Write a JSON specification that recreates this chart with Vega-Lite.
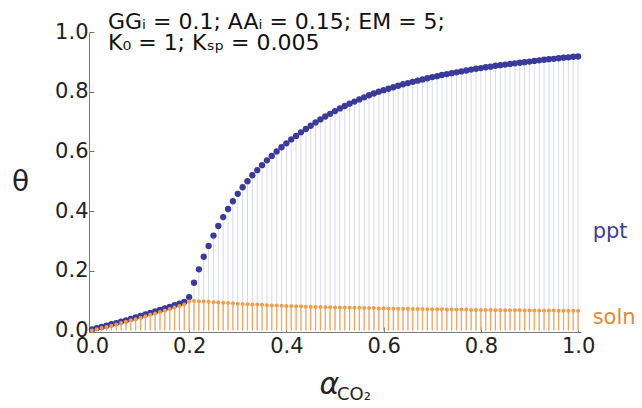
{
  "$schema": "https://vega.github.io/schema/vega-lite/v6.json",
  "width": 492,
  "height": 300,
  "autosize": "none",
  "padding": {"left": 89, "top": 32, "right": 61, "bottom": 76},
  "config": {"view": {"stroke": null}, "font": "DejaVu Sans"},
  "datasets": {
    "curve": [
      {"alpha":0.00,"ppt":0.004,"soln":0.000},{"alpha":0.01,"ppt":0.008,"soln":0.004},{"alpha":0.02,"ppt":0.012,"soln":0.008},{"alpha":0.03,"ppt":0.016,"soln":0.012},{"alpha":0.04,"ppt":0.021,"soln":0.016},
      {"alpha":0.05,"ppt":0.025,"soln":0.020},{"alpha":0.06,"ppt":0.030,"soln":0.025},{"alpha":0.07,"ppt":0.034,"soln":0.029},{"alpha":0.08,"ppt":0.039,"soln":0.034},{"alpha":0.09,"ppt":0.044,"soln":0.038},
      {"alpha":0.10,"ppt":0.049,"soln":0.043},{"alpha":0.11,"ppt":0.054,"soln":0.048},{"alpha":0.12,"ppt":0.059,"soln":0.053},{"alpha":0.13,"ppt":0.064,"soln":0.057},{"alpha":0.14,"ppt":0.069,"soln":0.062},
      {"alpha":0.15,"ppt":0.074,"soln":0.067},{"alpha":0.16,"ppt":0.079,"soln":0.072},{"alpha":0.17,"ppt":0.085,"soln":0.077},{"alpha":0.18,"ppt":0.090,"soln":0.082},{"alpha":0.19,"ppt":0.096,"soln":0.087},
      {"alpha":0.20,"ppt":0.112,"soln":0.097},{"alpha":0.21,"ppt":0.160,"soln":0.099},{"alpha":0.22,"ppt":0.205,"soln":0.098},{"alpha":0.23,"ppt":0.247,"soln":0.097},{"alpha":0.24,"ppt":0.283,"soln":0.096},
      {"alpha":0.25,"ppt":0.318,"soln":0.095},{"alpha":0.26,"ppt":0.350,"soln":0.094},{"alpha":0.27,"ppt":0.380,"soln":0.093},{"alpha":0.28,"ppt":0.407,"soln":0.092},{"alpha":0.29,"ppt":0.433,"soln":0.091},
      {"alpha":0.30,"ppt":0.458,"soln":0.090},{"alpha":0.31,"ppt":0.480,"soln":0.089},{"alpha":0.32,"ppt":0.500,"soln":0.088},{"alpha":0.33,"ppt":0.520,"soln":0.087},{"alpha":0.34,"ppt":0.537,"soln":0.087},
      {"alpha":0.35,"ppt":0.554,"soln":0.086},{"alpha":0.36,"ppt":0.570,"soln":0.085},{"alpha":0.37,"ppt":0.585,"soln":0.084},{"alpha":0.38,"ppt":0.600,"soln":0.084},{"alpha":0.39,"ppt":0.614,"soln":0.083},
      {"alpha":0.40,"ppt":0.627,"soln":0.082},{"alpha":0.41,"ppt":0.640,"soln":0.082},{"alpha":0.42,"ppt":0.652,"soln":0.081},{"alpha":0.43,"ppt":0.664,"soln":0.081},{"alpha":0.44,"ppt":0.675,"soln":0.080},
      {"alpha":0.45,"ppt":0.686,"soln":0.080},{"alpha":0.46,"ppt":0.697,"soln":0.079},{"alpha":0.47,"ppt":0.707,"soln":0.079},{"alpha":0.48,"ppt":0.717,"soln":0.078},{"alpha":0.49,"ppt":0.726,"soln":0.078},
      {"alpha":0.50,"ppt":0.735,"soln":0.077},{"alpha":0.51,"ppt":0.744,"soln":0.077},{"alpha":0.52,"ppt":0.752,"soln":0.077},{"alpha":0.53,"ppt":0.760,"soln":0.076},{"alpha":0.54,"ppt":0.767,"soln":0.076},
      {"alpha":0.55,"ppt":0.774,"soln":0.076},{"alpha":0.56,"ppt":0.781,"soln":0.075},{"alpha":0.57,"ppt":0.788,"soln":0.075},{"alpha":0.58,"ppt":0.794,"soln":0.075},{"alpha":0.59,"ppt":0.800,"soln":0.074},
      {"alpha":0.60,"ppt":0.805,"soln":0.074},{"alpha":0.61,"ppt":0.810,"soln":0.074},{"alpha":0.62,"ppt":0.815,"soln":0.073},{"alpha":0.63,"ppt":0.820,"soln":0.073},{"alpha":0.64,"ppt":0.825,"soln":0.073},
      {"alpha":0.65,"ppt":0.829,"soln":0.073},{"alpha":0.66,"ppt":0.833,"soln":0.072},{"alpha":0.67,"ppt":0.837,"soln":0.072},{"alpha":0.68,"ppt":0.841,"soln":0.072},{"alpha":0.69,"ppt":0.845,"soln":0.071},
      {"alpha":0.70,"ppt":0.849,"soln":0.071},{"alpha":0.71,"ppt":0.852,"soln":0.071},{"alpha":0.72,"ppt":0.856,"soln":0.071},{"alpha":0.73,"ppt":0.859,"soln":0.070},{"alpha":0.74,"ppt":0.862,"soln":0.070},
      {"alpha":0.75,"ppt":0.865,"soln":0.070},{"alpha":0.76,"ppt":0.868,"soln":0.070},{"alpha":0.77,"ppt":0.871,"soln":0.070},{"alpha":0.78,"ppt":0.874,"soln":0.069},{"alpha":0.79,"ppt":0.877,"soln":0.069},
      {"alpha":0.80,"ppt":0.879,"soln":0.069},{"alpha":0.81,"ppt":0.882,"soln":0.069},{"alpha":0.82,"ppt":0.884,"soln":0.069},{"alpha":0.83,"ppt":0.887,"soln":0.068},{"alpha":0.84,"ppt":0.889,"soln":0.068},
      {"alpha":0.85,"ppt":0.891,"soln":0.068},{"alpha":0.86,"ppt":0.893,"soln":0.068},{"alpha":0.87,"ppt":0.895,"soln":0.068},{"alpha":0.88,"ppt":0.897,"soln":0.068},{"alpha":0.89,"ppt":0.899,"soln":0.067},
      {"alpha":0.90,"ppt":0.901,"soln":0.067},{"alpha":0.91,"ppt":0.903,"soln":0.067},{"alpha":0.92,"ppt":0.905,"soln":0.067},{"alpha":0.93,"ppt":0.907,"soln":0.067},{"alpha":0.94,"ppt":0.909,"soln":0.067},
      {"alpha":0.95,"ppt":0.910,"soln":0.067},{"alpha":0.96,"ppt":0.912,"soln":0.066},{"alpha":0.97,"ppt":0.914,"soln":0.066},{"alpha":0.98,"ppt":0.915,"soln":0.066},{"alpha":0.99,"ppt":0.917,"soln":0.066},
      {"alpha":1.00,"ppt":0.918,"soln":0.066}
    ]
  },
  "layer": [
    {
      "data": {"name": "curve"},
      "mark": {"type": "rule", "color": "#d8d8f0", "strokeWidth": 1},
      "encoding": {
        "x": {"field": "alpha", "type": "quantitative",
          "scale": {"domain": [-0.006, 1.006], "nice": false, "zero": false},
          "axis": {"values": [0, 0.2, 0.4, 0.6, 0.8, 1.0], "format": ".1f", "labelFontSize": 21, "labelColor": "#222", "labelPadding": 8,
            "domainColor": "#777", "tickColor": "#777", "tickSize": -5, "grid": false,
            "title": "α", "titleFontSize": 30, "titleFontStyle": "italic", "titleFontWeight": "normal", "titleColor": "#222",
            "titleX": 240, "titleY": 52, "titleAlign": "center", "titleBaseline": "middle"}},
        "y": {"field": "ppt", "type": "quantitative",
          "scale": {"domain": [-0.005, 1.0], "nice": false, "zero": false},
          "axis": {"values": [0, 0.2, 0.4, 0.6, 0.8, 1.0], "format": ".1f", "labelFontSize": 21, "labelColor": "#222", "labelPadding": 6,
            "domainColor": "#777", "tickColor": "#777", "tickSize": -5, "grid": false,
            "title": "θ", "titleFontSize": 28, "titleFontWeight": "normal", "titleColor": "#222", "titleAngle": 0,
            "titleX": -69, "titleY": 150, "titleAlign": "center", "titleBaseline": "middle"}},
        "y2": {"datum": 0}
      }
    },
    {
      "data": {"name": "curve"},
      "mark": {"type": "rule", "color": "#f7a356", "strokeWidth": 1.2},
      "encoding": {
        "x": {"field": "alpha", "type": "quantitative"},
        "y": {"field": "soln", "type": "quantitative"},
        "y2": {"datum": 0}
      }
    },
    {
      "data": {"name": "curve"},
      "mark": {"type": "circle", "color": "#3a3a9a", "size": 40, "opacity": 1},
      "encoding": {
        "x": {"field": "alpha", "type": "quantitative"},
        "y": {"field": "ppt", "type": "quantitative"}
      }
    },
    {
      "data": {"name": "curve"},
      "mark": {"type": "circle", "color": "#f59a45", "size": 16, "opacity": 1},
      "encoding": {
        "x": {"field": "alpha", "type": "quantitative"},
        "y": {"field": "soln", "type": "quantitative"}
      }
    },
    {
      "data": {"values": [
        {"alpha": 0.033, "theta": 1.01, "label": "GGᵢ = 0.1; AAᵢ = 0.15; EM = 5;"},
        {"alpha": 0.033, "theta": 0.94, "label": "K₀ = 1; Kₛₚ = 0.005"}
      ]},
      "mark": {"type": "text", "align": "left", "baseline": "alphabetic", "fontSize": 22, "color": "#111"},
      "encoding": {
        "x": {"field": "alpha", "type": "quantitative"},
        "y": {"field": "theta", "type": "quantitative"},
        "text": {"field": "label"}
      }
    },
    {
      "data": {"values": [{"alpha": 1.03, "theta": 0.33, "label": "ppt"}]},
      "mark": {"type": "text", "align": "left", "baseline": "middle", "fontSize": 21, "color": "#3c3c9c"},
      "encoding": {
        "x": {"field": "alpha", "type": "quantitative"},
        "y": {"field": "theta", "type": "quantitative"},
        "text": {"field": "label"}
      }
    },
    {
      "data": {"values": [{"alpha": 1.03, "theta": 0.043, "label": "soln"}]},
      "mark": {"type": "text", "align": "left", "baseline": "middle", "fontSize": 21, "color": "#e08a38"},
      "encoding": {
        "x": {"field": "alpha", "type": "quantitative"},
        "y": {"field": "theta", "type": "quantitative"},
        "text": {"field": "label"}
      }
    },
    {
      "data": {"values": [{"alpha": 0.504, "theta": -0.215, "label": "CO₂"}]},
      "mark": {"type": "text", "align": "left", "baseline": "middle", "fontSize": 18, "color": "#222"},
      "encoding": {
        "x": {"field": "alpha", "type": "quantitative"},
        "y": {"field": "theta", "type": "quantitative"},
        "text": {"field": "label"}
      }
    }
  ]
}
